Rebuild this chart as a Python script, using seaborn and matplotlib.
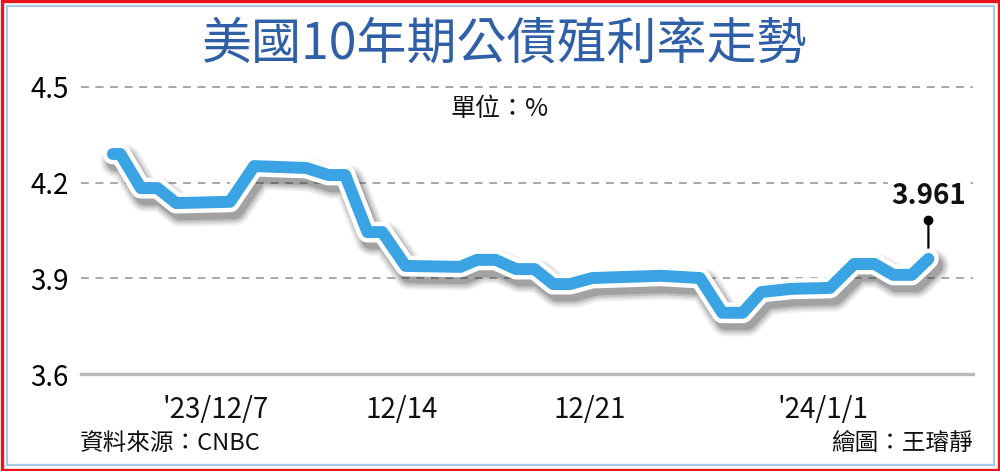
import numpy as np
import pandas as pd
import matplotlib
matplotlib.use("Agg")
import matplotlib.pyplot as plt
import matplotlib.patheffects as pe
import matplotlib.transforms as mtransforms
from matplotlib.patches import Rectangle
import seaborn as sns

# Chart data. x is a position along the time axis
step_x = [0.0, 0.4, 1.5, 2.4, 3.4, 6.3, 7.6, 10.4, 11.6, 12.5, 13.7, 14.5,
          15.75, 18.7, 19.6, 20.6, 21.7, 22.7, 23.7, 24.6, 25.8, 29.5, 31.6,
          32.8, 33.9, 34.9, 36.5, 38.6, 39.9, 41.0, 42.0, 43.0, 43.9]
yield_pct = [4.290, 4.290, 4.183, 4.183, 4.136, 4.140, 4.252, 4.246, 4.224,
             4.224, 4.045, 4.045, 3.939, 3.936, 3.958, 3.958, 3.929, 3.929,
             3.882, 3.882, 3.901, 3.908, 3.901, 3.792, 3.792, 3.857, 3.867,
             3.870, 3.945, 3.945, 3.911, 3.911, 3.961]
tick_pos = [5.55, 15.55, 25.65, 38.2]
tick_labels = ["'23/12/7", "12/14", "12/21", "'24/1/1"]
y_ticks = [3.6, 3.9, 4.2, 4.5]
last_label = "3.961"

title = "美國10年期公債殖利率走勢"
unit_text = "單位：%"
source_text = "資料來源：CNBC"
credit_text = "繪圖：王璿靜"

LINE_BLUE = "#3aa3e3"
TITLE_BLUE = "#2e5fa7"


def main():
    df = pd.DataFrame({"x": step_x, "y": yield_pct})

    sns.set_style("white")
    plt.rcParams["font.family"] = ["Noto Sans CJK TC", "DejaVu Sans"]

    fig = plt.figure(figsize=(10, 4.71), dpi=100)
    fig.patch.set_facecolor("white")
    ax = fig.add_axes([0.081, 0.2059, 0.892, 0.6094])

    # grid lines
    for v in y_ticks[1:]:
        ax.axhline(v, color="#a8a8a8", lw=1.4, ls=(0, (4, 3.5)), zorder=1)

    # soft drop shadow, white outline, then the blue line
    shadow = [pe.SimpleLineShadow(offset=(3, -5), shadow_color="#2a2a2a",
                                  alpha=a, rho=1, linewidth=w)
              for w, a in [(24, 0.07), (21, 0.1), (18, 0.14), (15, 0.2)]]
    effects = shadow + [pe.Stroke(linewidth=15, foreground="white"), pe.Normal()]

    sns.lineplot(data=df, x="x", y="y", ax=ax, color=LINE_BLUE, lw=8.6,
                 estimator=None, sort=False, solid_capstyle="round",
                 solid_joinstyle="round", path_effects=effects, zorder=3,
                 clip_on=False)

    ax.set_xlim(-1.72, 46.3)
    ax.set_ylim(3.6, 4.5)
    ax.set_yticks(y_ticks)
    ax.set_yticklabels([f"{v:.1f}" for v in y_ticks])
    ax.set_xticks(tick_pos)
    ax.set_xticklabels(tick_labels)
    ax.set_xlabel("")
    ax.set_ylabel("")
    ax.tick_params(axis="y", length=0, pad=9, labelsize=20, colors="black")
    ax.tick_params(axis="x", length=7, width=2.2, color="#b5b5b5", pad=8,
                   labelsize=20, labelcolor="#111111")
    for lab in ax.get_xticklabels() + ax.get_yticklabels():
        lab.set_fontweight("medium")

    for s in ["left", "right", "top"]:
        ax.spines[s].set_visible(False)
    ax.spines["bottom"].set_color("#b8b8b8")
    ax.spines["bottom"].set_linewidth(2.4)
    ax.axhline(4.5, color="#a8a8a8", lw=1.4, ls=(0, (4, 3.5)), zorder=1,
               clip_on=False)
    ax.set_facecolor("none")

    # pin on the last value
    xl, yl = step_x[-1], yield_pct[-1]
    ax.annotate(last_label, xy=(xl, yl), xytext=(0, 45),
                textcoords="offset points", ha="center", va="center",
                fontsize=20, fontweight="bold", color="#111111",
                bbox=dict(boxstyle="square,pad=0.12", fc="white", ec="none"),
                zorder=5)
    ax.annotate("", xy=(xl, yl), xytext=(0, 28), textcoords="offset points",
                arrowprops=dict(arrowstyle="-", color="black", lw=1.6,
                                shrinkA=0, shrinkB=0), zorder=2)
    pin_tr = mtransforms.offset_copy(ax.transData, fig=fig, x=0, y=28,
                                     units="points")
    ax.plot([xl], [yl], marker="o", ms=6, color="black", transform=pin_tr,
            zorder=6, clip_on=False)

    fig.text(0.505, 0.905, title, ha="center", va="center", fontsize=36,
             color=TITLE_BLUE, fontweight="medium")
    fig.text(0.5, 0.768, unit_text, ha="center", va="center", fontsize=18,
             color="#111111")
    fig.text(0.080, 0.058, source_text, ha="left", va="center", fontsize=17,
             color="#111111")
    fig.text(0.973, 0.058, credit_text, ha="right", va="center", fontsize=17,
             color="#111111")

    # frame: red outer edge, thin light blue inner edge
    fig.patches.append(Rectangle((0.0015, 0.003), 0.997, 0.994,
                                 transform=fig.transFigure, fill=False,
                                 ec="#e8141c", lw=2.4))
    fig.patches.append(Rectangle((0.0065, 0.0135), 0.987, 0.973,
                                 transform=fig.transFigure, fill=False,
                                 ec="#a9c7e6", lw=1.6))

    fig.savefig("out.png", dpi=100, facecolor="white")


if __name__ == '__main__':
    main()
